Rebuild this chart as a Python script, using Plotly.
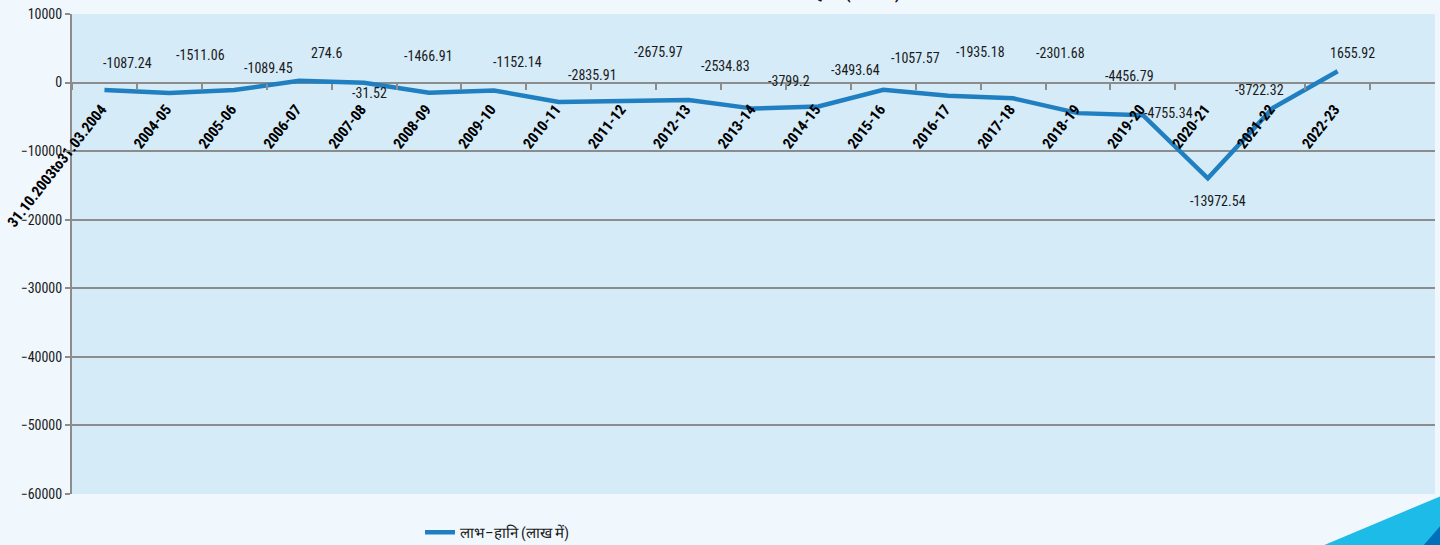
import plotly.graph_objects as go

categories = ["31.10.2003to31.03.2004", "2004-05", "2005-06", "2006-07", "2007-08",
              "2008-09", "2009-10", "2010-11", "2011-12", "2012-13", "2013-14",
              "2014-15", "2015-16", "2016-17", "2017-18", "2018-19", "2019-20",
              "2020-21", "2021-22", "2022-23"]
profit_loss = [-1087.24, -1511.06, -1089.45, 274.6, -31.52, -1466.91, -1152.14,
               -2835.91, -2675.97, -2534.83, -3799.2, -3493.64, -1057.57, -1935.18,
               -2301.68, -4456.79, -4755.34, -13972.54, -3722.32, 1655.92]
y_ticks = [10000, 0, -10000, -20000, -30000, -40000, -50000, -60000]
series_name = "लाभ–हानि (लाख में)"

# label placement offsets in pixels (style only)
label_dx = [23, 31, 34, 27, 5, 0, 24, 34, 35, 37, 35, 37, 32, 32, 47, 51, 26, 10, -13, 15]
label_dy = [-27, -38, -22, -28, 10, -37, -28, -27, -49, -34, -28, -37, -32, -44, -45, -37, -2, 23, -18, -18]

NARROW = "Liberation Sans Narrow, Arial Narrow, Roboto Condensed, sans-serif"
LINE_COLOR = "#1F7FC1"
GRID = "#8C8C8C"
PAGE_BG = "#F0F8FE"

fig = go.Figure()
fig.add_trace(go.Scatter(
    x=categories, y=profit_loss, mode="lines", name=series_name,
    line=dict(color=LINE_COLOR, width=4.5),
    showlegend=True,
))

for c, v, dx, dy in zip(categories, profit_loss, label_dx, label_dy):
    fig.add_annotation(x=c, y=v, text=str(v), showarrow=False,
                       xshift=dx, yshift=-dy,
                       font=dict(family=NARROW, size=14, color="#1a1a1a"))

# partially visible title at the very top
fig.add_annotation(xref="paper", yref="paper", x=(902 - 72) / 1363, y=(494 - 5) / 480,
                   xanchor="right", yanchor="bottom", showarrow=False,
                   text="<b>" + series_name + "</b>",
                   font=dict(family=NARROW, size=17, color="#1a1a1a"))

# corner decoration
fig.add_shape(type="path", xref="paper", yref="paper",
              path="M %f,%f L %f,%f L %f,%f Z" % ((1322 - 72) / 1363, (494 - 546) / 480,
                                                   (1441 - 72) / 1363, (494 - 496) / 480,
                                                   (1441 - 72) / 1363, (494 - 546) / 480),
              fillcolor="#1DBBE8", line=dict(width=0), layer="above")
fig.add_shape(type="path", xref="paper", yref="paper",
              path="M %f,%f L %f,%f L %f,%f Z" % ((1423 - 72) / 1363, (494 - 546) / 480,
                                                   (1441 - 72) / 1363, (494 - 525) / 480,
                                                   (1441 - 72) / 1363, (494 - 546) / 480),
              fillcolor="#0070B9", line=dict(width=0), layer="above")

fig.update_layout(
    width=1440, height=545,
    margin=dict(l=72, r=5, t=14, b=51, autoexpand=False),
    paper_bgcolor=PAGE_BG,
    plot_bgcolor="#D5EBF8",
    showlegend=True,
    legend=dict(orientation="h", x=(420 - 72) / 1363, y=(494 - 516) / 480,
                xanchor="left", yanchor="top",
                font=dict(family=NARROW, size=15, color="#1a1a1a"),
                bgcolor="rgba(0,0,0,0)", itemwidth=30),
    xaxis=dict(
        type="category", categoryorder="array", categoryarray=categories,
        range=[-0.5, 20.5],
        anchor="free", position=6 / 7,
        showgrid=False, zeroline=False, showline=False,
        ticks="outside", tickson="boundaries", ticklen=6, tickwidth=2, tickcolor=GRID,
        tickangle=-52, ticklabelshift=-3, ticklabelstandoff=14,
        tickfont=dict(family=NARROW, size=15, color="#000000", weight="bold"),
    ),
    yaxis=dict(
        range=[-60000, 10000], tickvals=y_ticks, tickformat="d",
        showgrid=True, gridcolor=GRID, gridwidth=2,
        zeroline=False, showline=True, linecolor=GRID, linewidth=2,
        ticks="outside", ticklen=5, tickwidth=2, tickcolor=GRID,
        tickfont=dict(family=NARROW, size=14, color="#1a1a1a"),
    ),
)

fig.write_html("out.html", config={"displayModeBar": False},
               post_script="document.body.style.margin='0';document.body.style.background='%s';" % PAGE_BG)
